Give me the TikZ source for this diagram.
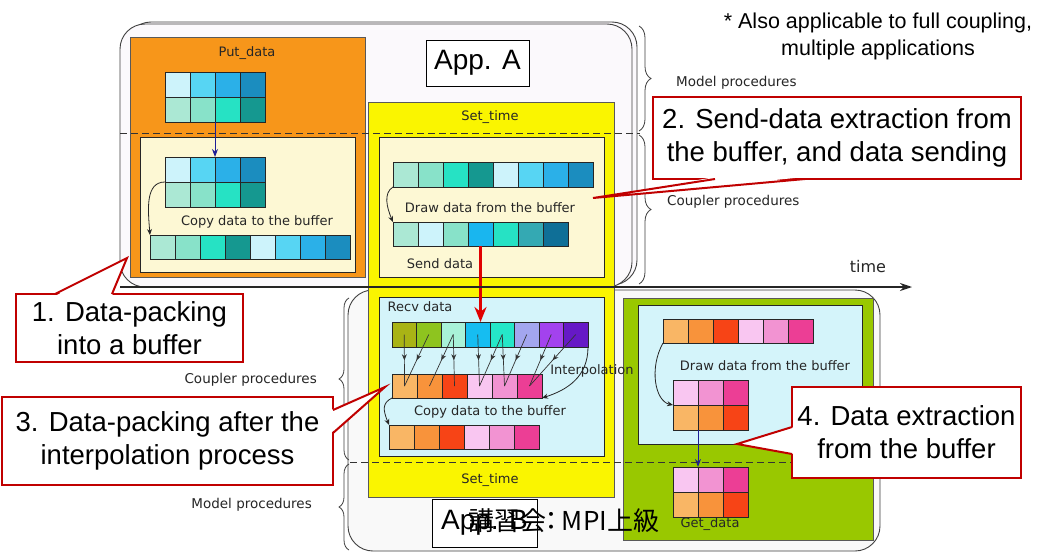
\documentclass[tikz,border=0pt]{standalone}
\usepackage{fontspec}
\setmainfont{Liberation Sans}
\newfontfamily\smallf{DejaVu Sans}
\newfontfamily\cjkf{Noto Sans CJK JP}
\usetikzlibrary{arrows.meta,decorations.pathreplacing,decorations.markings,calc}
\definecolor{calred}{HTML}{C00000}
\definecolor{arrred}{HTML}{E00000}
\definecolor{navy}{HTML}{1E1E96}
\definecolor{orangebox}{HTML}{F7961A}
\definecolor{yellowbox}{HTML}{FAF500}
\definecolor{greenbox}{HTML}{99C800}
\definecolor{cream}{HTML}{FDF8D4}
\definecolor{lcyan}{HTML}{D4F4FA}
\definecolor{appAfill}{HTML}{FBF9FC}
\definecolor{appBfill}{HTML}{F9F9F9}
\definecolor{cA}{HTML}{CDF3FB}
\definecolor{cB}{HTML}{57D5F3}
\definecolor{cC}{HTML}{2BB0E8}
\definecolor{cD}{HTML}{1B8DBF}
\definecolor{mA}{HTML}{ABE8D4}
\definecolor{mB}{HTML}{88E2C9}
\definecolor{mC}{HTML}{26E2C4}
\definecolor{mD}{HTML}{159890}
\definecolor{sB}{HTML}{19B6EF}
\definecolor{sF}{HTML}{34A9B3}
\definecolor{sG}{HTML}{0F6F97}
\definecolor{rA}{HTML}{A9B315}
\definecolor{rB}{HTML}{8EC41F}
\definecolor{rC}{HTML}{A8F2D8}
\definecolor{rD}{HTML}{16BDF1}
\definecolor{rE}{HTML}{25E7C8}
\definecolor{rF}{HTML}{A3A6EF}
\definecolor{rG}{HTML}{A342EE}
\definecolor{rH}{HTML}{6619C6}
\definecolor{oA}{HTML}{F9B665}
\definecolor{oB}{HTML}{F8933B}
\definecolor{oC}{HTML}{F74416}
\definecolor{pA}{HTML}{F9C6F1}
\definecolor{pB}{HTML}{F293D2}
\definecolor{pC}{HTML}{EC3E95}
\newcommand\cellrow[6]{%
  \foreach \cc [count=\ii] in {#6} {%
    \node[cell, minimum width=#4pt, minimum height=#5pt, fill=\cc] (#1-\ii) at ({#2+(\ii-1)*#4}, #3) {};
  }%
}
\begin{document}
\begin{tikzpicture}[x=1pt,y=-1pt,
  cell/.style={draw=black!85, line width=0.8pt, inner sep=0pt, outer sep=0pt, anchor=north west},
  lbl/.style={font=\smallf\fontsize{13}{15}\selectfont, text=black!85, inner sep=0pt},
  sidelbl/.style={font=\smallf\fontsize{13.5}{15}\selectfont, text=black!85, inner sep=0pt},
  callout/.style={draw=calred, line width=2pt, fill=white, outer sep=0pt, inner sep=0pt, align=center, text=black, font=\fontsize{27.5}{33}\selectfont},
  appbox/.style={draw=black, line width=1pt, fill=white, inner sep=0pt, outer sep=0pt, font=\fontsize{28}{32}\selectfont},
  boxline/.style={draw=black!65, line width=0.8pt},
  innerline/.style={draw=black!85, line width=1pt},
  arr/.style={-{Stealth[length=6pt,width=5pt]}, line width=0.8pt, draw=black!85},
  bluearr/.style={-{Stealth[length=8pt,width=6pt]}, line width=1pt, draw=navy},
  redarr/.style={-{Stealth[length=15pt,width=12pt]}, line width=2.8pt, draw=arrred},
  interp/.style={draw=black!80, line width=0.7pt, postaction={decorate},
    decoration={markings, mark=at position 0.5 with {\arrow{Stealth[length=6pt,width=5pt]}}}},
  dashline/.style={draw=black!80, line width=1pt, dash pattern=on 7pt off 4pt},
  bracestyle/.style={decorate, draw=black!75, line width=0.8pt},
  ptr/.style={draw=calred, line width=2pt, line join=miter}
]
\useasboundingbox (0,0) rectangle (1051,554);
\fill[white] (0,0) rectangle (1051,554);

% application frames
\draw[black!75, line width=0.9pt, fill=appAfill, rounded corners=25pt] (126,22) rectangle (637,285);
\draw[black!75, line width=0.9pt, fill=appAfill, rounded corners=25pt] (120,24) rectangle (632,287);
\draw[black!75, line width=0.9pt, fill=appBfill, rounded corners=25pt] (348,290) rectangle (880,551);

% coloured process boxes
\draw[boxline, fill=orangebox] (130,37) rectangle (365,277);
\draw[innerline, fill=cream] (140,137) rectangle (355,272);
\draw[boxline, fill=yellowbox] (368,102) rectangle (614,497);
\draw[innerline, fill=cream] (379,137) rectangle (604,277);
\draw[innerline, fill=lcyan] (379,297) rectangle (604,456);
\draw[boxline, fill=greenbox] (623,298) rectangle (873,540);
\draw[innerline, fill=lcyan] (638,305) rectangle (862,444);

% data cells
\cellrow{G1a}{165}{72}{25}{25}{cA,cB,cC,cD}
\cellrow{G1b}{165}{97}{25}{25}{mA,mB,mC,mD}
\cellrow{G2a}{165}{157}{25}{25}{cA,cB,cC,cD}
\cellrow{G2b}{165}{182}{25}{25}{mA,mB,mC,mD}
\cellrow{B1}{150}{235}{25}{24}{mA,mB,mC,mD,cA,cB,cC,cD}
\cellrow{S1}{393}{162}{25}{25}{mA,mB,mC,mD,cA,cB,cC,cD}
\cellrow{S2}{393}{222}{25}{24}{mA,cA,mB,sB,mC,sF,sG}
\cellrow{R1}{392}{322}{24.5}{25}{rA,rB,rC,rD,rE,rF,rG,rH}
\cellrow{R2}{392}{374}{25}{24}{oA,oB,oC,pA,pB,pC}
\cellrow{R3}{389}{425}{25}{24}{oA,oB,oC,pA,pB,pC}
\cellrow{D1}{663}{319}{25}{24}{oA,oB,oC,pA,pB,pC}
\cellrow{D2a}{673}{380}{25}{25}{pA,pB,pC}
\cellrow{D2b}{673}{405}{25}{25}{oA,oB,oC}
\cellrow{D3a}{673}{467}{25}{25}{pA,pB,pC}
\cellrow{D3b}{673}{492}{25}{25}{oA,oB,oC}

% arrows inside the boxes
\draw[bluearr] (G1b-3.south west) -- (G2a-3.north west);
\draw[arr] (G2b-1.north west) .. controls +(-20,0) and +(-2,-25) .. (B1-1.north west);
\draw[arr] (S1-1.south west) .. controls +(-10,6) and +(-6,-14) .. (S2-1.north west);
\draw[redarr] (S2-4.south) -- (S2-4.south |- R1-4.north);
\foreach \t/\b in {1/1,2/1,3/2,3/3,4/4,5/4,5/5,6/5,7/6,8/6}
  \draw[interp] (R1-\t.center) -- (R2-\b.center);
\draw[arr] (R1-8.south east) .. controls +(0,30) and +(25,-8) .. (R2-6.south east);
\draw[arr] (R2-1.south west) .. controls +(-10,5) and +(-6,-15) .. (R3-1.north west);
\draw[arr] (D1-1.south west) .. controls +(-14,25) and +(-18,-4) .. (D2b-1.north west);
\draw[bluearr] (D2b-2.south west) -- (D3a-2.north west);

% dashed separators
\draw[dashline] (120,133) -- (640,133);
\draw[dashline] (350,462) -- (880,462);

% time axis
\coordinate (t0) at (120,287);
\coordinate (t1) at (912,287);
\draw[-{Stealth[length=12pt,width=8pt]}, line width=1.6pt, black!85] (t0) -- (t1);
\node[font=\smallf\fontsize{16}{18}\selectfont, text=black!85, inner sep=0pt] (timelbl) at (868,267) {time};

% braces
\draw[bracestyle, decoration={brace, amplitude=12pt}] (639,26) -- (639,131);
\draw[bracestyle, decoration={brace, amplitude=12pt}] (639,135) -- (639,284);
\draw[bracestyle, decoration={brace, amplitude=10pt}] (349,460) -- (349,298);
\draw[bracestyle, decoration={brace, amplitude=10pt}] (349,550) -- (349,464);
\node[sidelbl, anchor=west] (mpA) at (676,83) {Model procedures};
\node[sidelbl, anchor=west] (cpA) at (667,202) {Coupler procedures};
\node[sidelbl, anchor=east] (cpB) at (317,380) {Coupler procedures};
\node[sidelbl, anchor=east] (mpB) at (312,505) {Model procedures};

% small labels
\node[lbl] (putd) at (247,53) {Put\_data};
\node[lbl] (copyA) at (257,222) {Copy data to the buffer};
\node[lbl] (settA) at (490,117) {Set\_time};
\node[lbl] (drawA) at (490,208) {Draw data from the buffer};
\node[lbl] (sendd) at (440,264) {Send data};
\node[lbl] (recvd) at (420,307) {Recv data};
\node[lbl] (interpl) at (592,371) {Interpolation};
\node[lbl] (copyB) at (490,412) {Copy data to the buffer};
\node[lbl] (settB) at (490,480) {Set\_time};
\node[lbl] (drawB) at (765,366) {Draw data from the buffer};
\node[lbl] (getd) at (710,524) {Get\_data};

% note
\node[font=\fontsize{21.5}{27}\selectfont, align=center, inner sep=0pt] (note) at (878,36) {* Also applicable to full coupling,\\multiple applications};

% app labels
\node[appbox, minimum width=103pt, minimum height=46pt] (appA) at (477.5,63) {App. A};
\node[appbox, minimum width=105pt, minimum height=48pt] (appB) at (484.5,523) {App. B};
\node[font=\cjkf\fontsize{26}{30}\selectfont, inner sep=0pt] (lect) at (564,521) {講習会\kern-8pt：\kern-3pt MPI上級};

% callouts
\node[callout, minimum width=227pt, minimum height=68pt] (c1) at (129.5,328) {1. Data-packing\\into a buffer};
\coordinate (c1tip) at (127,258);
\fill[white] ($(c1.north west)+(39,2)$) -- (c1tip) -- ($(c1.north west)+(96,2)$) -- cycle;
\draw[ptr] ($(c1.north west)+(39,0)$) -- (c1tip) -- ($(c1.north west)+(96,0)$);

\node[callout, minimum width=368pt, minimum height=82pt] (c2) at (837,138) {2. Send-data extraction from\\the buffer, and data sending};
\coordinate (c2tip) at (593,198);
\fill[white] ($(c2.south west)+(62,-2)$) -- (c2tip) -- ($(c2.south west)+(152,-2)$) -- cycle;
\draw[ptr] ($(c2.south west)+(62,0)$) -- (c2tip) -- ($(c2.south west)+(152,0)$);

\node[callout, minimum width=331pt, minimum height=88pt] (c3) at (167.5,441) {3. Data-packing after the\\interpolation process};
\coordinate (c3tip) at (385,387);
\fill[white] ($(c3.north east)+(-2,13)$) -- (c3tip) -- ($(c3.north east)+(-2,36)$) -- cycle;
\draw[ptr] ($(c3.north east)+(0,13)$) -- (c3tip) -- ($(c3.north east)+(0,36)$);

\node[callout, minimum width=229pt, minimum height=91pt] (c4) at (906.5,432.5) {4. Data extraction\\from the buffer};
\coordinate (c4tip) at (737,444);
\fill[white] ($(c4.north west)+(2,40)$) -- (c4tip) -- ($(c4.north west)+(2,67)$) -- cycle;
\draw[ptr] ($(c4.north west)+(0,40)$) -- (c4tip) -- ($(c4.north west)+(0,67)$);
\end{tikzpicture}
\end{document}
